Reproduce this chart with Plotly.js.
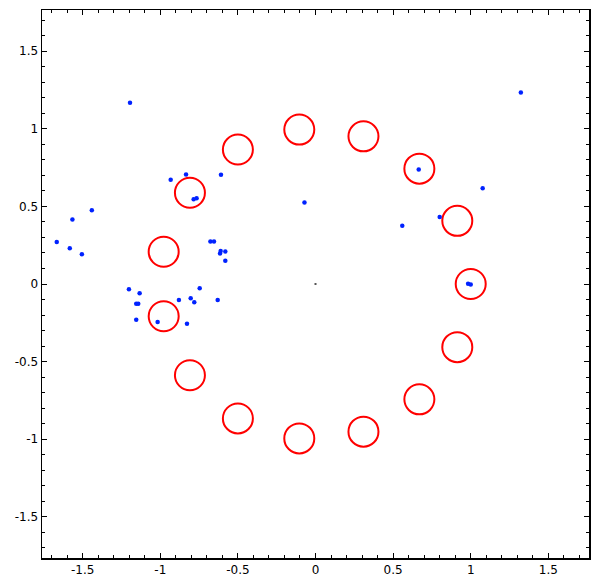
<!DOCTYPE html>
<html>
<head>
<meta charset="utf-8">
<script src="https://cdn.plot.ly/plotly-3.0.1.min.js"></script>
<style>
  html, body { margin: 0; padding: 0; background: #fff; }
  #chart { width: 599px; height: 584px; }
</style>
</head>
<body>
<div id="chart"></div>
<script>
// red rings (centres)
const ringX = [1.0, 0.9135, 0.6691, 0.3090, -0.1045, -0.5, -0.8090, -0.9781,
               -0.9781, -0.8090, -0.5, -0.1045, 0.3090, 0.6691, 0.9135];
const ringY = [0.0, 0.4067, 0.7431, 0.9511, 0.9945, 0.8660, 0.5878, 0.2079,
               -0.2079, -0.5878, -0.8660, -0.9945, -0.9511, -0.7431, -0.4067];

// blue points
const dotX = [-1.195, -0.933, -0.834, -0.609, -0.785, -0.766, -1.441, -1.566,
              -1.667, -1.583, -1.505, -0.677, -0.654, -0.611, -0.615, -0.581,
              -0.581, -1.202, -1.133, -1.155, -1.142, -1.155, -1.017, -0.880,
              -0.804, -0.781, -0.746, -0.828, -0.630, 0.665, 1.077, 0.800,
              0.559, 0.983, 1.000, 1.323, -0.071];
const dotY = [1.168, 0.671, 0.705, 0.703, 0.546, 0.553, 0.475, 0.415,
              0.271, 0.230, 0.191, 0.273, 0.273, 0.213, 0.196, 0.209,
              0.150, -0.034, -0.060, -0.127, -0.127, -0.230, -0.245, -0.103,
              -0.092, -0.118, -0.028, -0.256, -0.103, 0.738, 0.617, 0.432,
              0.376, 0.002, -0.004, 1.234, 0.525];

// tiny mark at the origin
const originX = [0];
const originY = [0];

const tickVals = [-1.5, -1, -0.5, 0, 0.5, 1, 1.5];
const tickText = ['-1.5', '-1', '-0.5', '0', '0.5', '1', '1.5'];

const axisBase = {
    showgrid: false,
    zeroline: false,
    showline: true,
    linecolor: '#000',
    linewidth: 1.5,
    mirror: 'allticks',
    ticks: 'inside',
    ticklen: 5,
    tickwidth: 1,
    tickcolor: '#000',
    tickvals: tickVals,
    ticktext: tickText,
    tickfont: { family: 'DejaVu Sans', size: 12, color: '#000' },
    minor: { dtick: 0.1, ticks: 'inside', ticklen: 3, tickwidth: 1, tickcolor: '#000', showgrid: false },
    fixedrange: true
};

const data = [
    {
        type: 'scatter',
        mode: 'markers',
        x: ringX,
        y: ringY,
        marker: { symbol: 'circle-open', size: 30, color: '#ff0000', line: { width: 2, color: '#ff0000' } },
        hoverinfo: 'skip'
    },
    {
        type: 'scatter',
        mode: 'markers',
        x: dotX,
        y: dotY,
        marker: { symbol: 'circle', size: 4.5, color: '#0022ff' },
        hoverinfo: 'skip'
    },
    {
        type: 'scatter',
        mode: 'markers',
        x: originX,
        y: originY,
        marker: { symbol: 'square', size: 2, color: '#555' },
        hoverinfo: 'skip'
    }
];

const layout = {
    width: 599,
    height: 584,
    margin: { l: 42, r: 10, t: 10, b: 26 },
    paper_bgcolor: '#fff',
    plot_bgcolor: '#fff',
    showlegend: false,
    xaxis: Object.assign({}, axisBase, { range: [-1.762, 1.762] }),
    yaxis: Object.assign({}, axisBase, { range: [-1.765, 1.765] })
};

Plotly.newPlot('chart', data, layout, { displayModeBar: false, staticPlot: true });
</script>
</body>
</html>
